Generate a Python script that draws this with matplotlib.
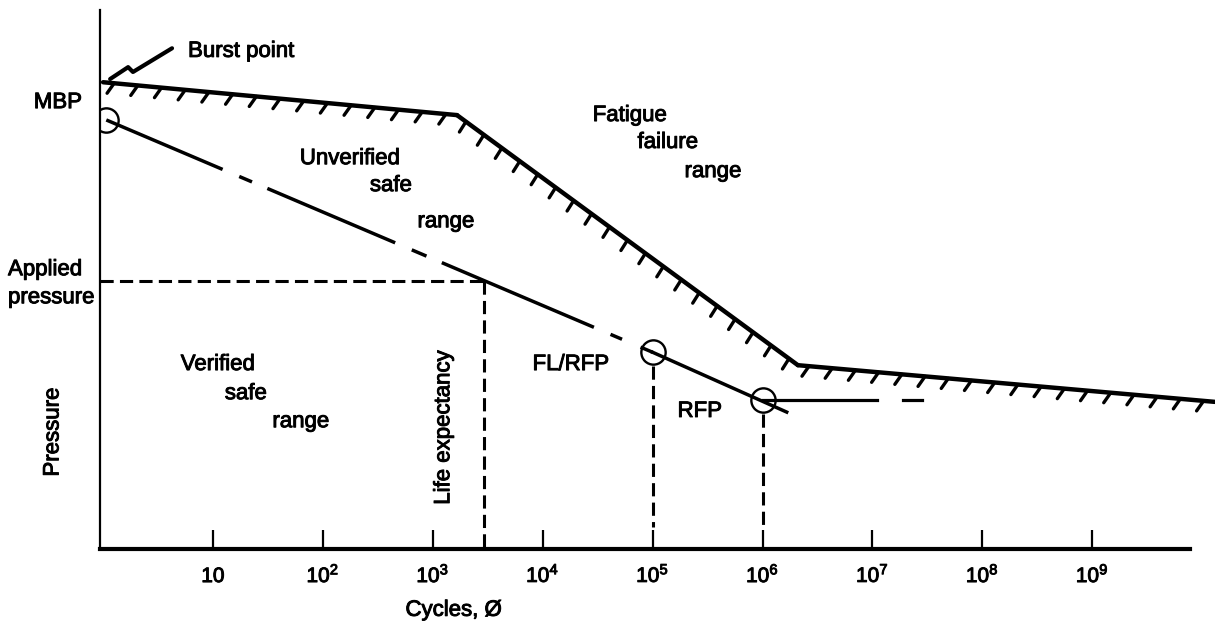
import matplotlib.pyplot as plt
import matplotlib.patheffects as pe

plt.rcParams['font.family'] = ['Liberation Sans', 'DejaVu Sans']
plt.rcParams['mathtext.fontset'] = 'custom'
plt.rcParams['mathtext.rm'] = 'Liberation Sans'
plt.rcParams['lines.scale_dashes'] = False

# Limite de falha por fadiga (linha hachurada)
limite_ciclos = [1.0, 1660, 2.1e6, 1.3e10]
limite_pressao = [86.6, 80.5, 34.1, 27.3]

# Raio do "burst point"
burst_ciclos = [1.16, 1.69, 1.87, 4.24]
burst_pressao = [87.2, 89.4, 88.5, 92.9]

# MBP -> FL/RFP e FL/RFP -> RFP
vida_ciclos = [1.07, 1e5]
vida_pressao = [79.6, 36.5]
rfp_ciclos = [1e5, 1.66e6]
rfp_pressao = [36.5, 25.4]

# Pontos marcados com circulo (MBP, FL/RFP, RFP)
pontos_ciclos = [1.07, 1e5, 1e6]
pontos_pressao = [79.6, 36.5, 27.6]

# Linha horizontal a partir do RFP
horiz_ciclos = [1e6, 1.1e7]
horiz_traco = [1.9e7, 2.8e7]
pressao_rfp = 27.6

# Pressao aplicada e expectativa de vida
pressao_aplicada = 49.7
vida_esperada = 2900
ciclos_fl_rfp = 1e5
ciclos_rfp = 1e6

ticks_ciclos = [10 ** k for k in range(1, 10)]
tick_rotulos = ['10'] + [r'$\mathregular{10^{%d}}$' % k for k in range(2, 10)]

# contorno fino para deixar o texto com o peso do original
grosso = [pe.withStroke(linewidth=0.7, foreground='black')]

fig = plt.figure(figsize=(12.15, 6.22), dpi=100)
ax = fig.add_axes([100 / 1215, 1 - 549 / 622, 1115 / 1215, 539 / 622])
ax.set_xscale('log')
ax.set_xlim(10 ** -0.028, 10 ** 10.117)
ax.set_ylim(0, 100)

# linha limite com hachuras, um segmento por vez (angulo das hachuras muda)
angulos = [-120, -86, -120]
for i in range(len(limite_ciclos) - 1):
    ax.plot(limite_ciclos[i:i + 2], limite_pressao[i:i + 2], color='black', lw=3.2,
            solid_capstyle='round',
            path_effects=[pe.withTickedStroke(angle=angulos[i], spacing=16, length=0.55,
                                              linewidth=2.4, capstyle='round')])

ax.plot(burst_ciclos, burst_pressao, color='black', lw=3, solid_capstyle='round')

# linha MBP -> FL/RFP com trechos interrompidos
ax.plot(vida_ciclos, vida_pressao, color='black', lw=2.5,
        dashes=(91, 13, 10, 12, 100, 13, 11.5, 12, 119, 13, 9, 14.5, 200, 1))
ax.plot(rfp_ciclos, rfp_pressao, color='black', lw=2.5)
ax.plot(pontos_ciclos, pontos_pressao, 'o', ms=17.5, mfc='none', mec='black', mew=1.7)

ax.plot(horiz_ciclos, [pressao_rfp] * 2, color='black', lw=2.3)
ax.plot(horiz_traco, [pressao_rfp] * 2, color='black', lw=2.3)

# linhas tracejadas
tracejado = (9.5, 4.5)
ax.plot([ax.get_xlim()[0], vida_esperada], [pressao_aplicada] * 2, color='black', lw=2.2,
        dashes=tracejado)
ax.plot([vida_esperada, vida_esperada], [pressao_aplicada, 0], color='black', lw=2.2,
        dashes=tracejado)
ax.plot([ciclos_fl_rfp] * 2, [34, 4], color='black', lw=2.2, dashes=tracejado)
ax.plot([ciclos_rfp] * 2, [25, 4], color='black', lw=2.2, dashes=tracejado)

# eixos
for lado in ['top', 'right']:
    ax.spines[lado].set_visible(False)
ax.spines['left'].set_linewidth(1.6)
ax.spines['bottom'].set_linewidth(3)
ax.spines['bottom'].set_bounds(10 ** -0.028, 10 ** 9.89)
ax.set_yticks([])
ax.xaxis.set_minor_locator(plt.NullLocator())
ax.set_xticks(ticks_ciclos, tick_rotulos)
ax.tick_params(axis='x', direction='in', length=13.5, width=1.6, pad=23.8, labelsize=15)
for t in ax.get_xticklabels():
    t.set_verticalalignment('baseline')
    t.set_path_effects(grosso)

# textos
fs = 16
textos = [
    (10 ** 0.773, 91.3, 'Burst point', 'left', 0),
    (10 ** -0.19, 81.8, 'MBP', 'right', 0),
    (10 ** -0.865, 50.8, 'Applied', 'left', 0),
    (10 ** -0.865, 45.6, 'pressure', 'left', 0),
    (10 ** 2.247, 71.4, 'Unverified', 'center', 0),
    (10 ** 2.62, 66.4, 'safe', 'center', 0),
    (10 ** 3.12, 59.7, 'range', 'center', 0),
    (10 ** 4.794, 79.4, 'Fatigue', 'center', 0),
    (10 ** 5.14, 74.4, 'failure', 'center', 0),
    (10 ** 5.55, 69.0, 'range', 'center', 0),
    (10 ** 1.045, 33.2, 'Verified', 'center', 0),
    (10 ** 1.30, 27.8, 'safe', 'center', 0),
    (10 ** 1.80, 22.6, 'range', 'center', 0),
    (10 ** 4.257, 33.2, 'FL/RFP', 'center', 0),
    (10 ** 5.43, 24.5, 'RFP', 'center', 0),
    (10 ** 3.19, -12.4, 'Cycles, Ø', 'center', 0),
]
for x, y, s, ha, rot in textos:
    ax.text(x, y, s, fontsize=fs, ha=ha, va='baseline', path_effects=grosso)

ax.text(10 ** 3.10, 22.6, 'Life expectancy', fontsize=fs, rotation=90,
        ha='center', va='center', path_effects=grosso)
ax.text(10 ** -0.456, 21.7, 'Pressure', fontsize=fs, rotation=90,
        ha='center', va='center', path_effects=grosso)

fig.savefig('out.png', dpi=100)
